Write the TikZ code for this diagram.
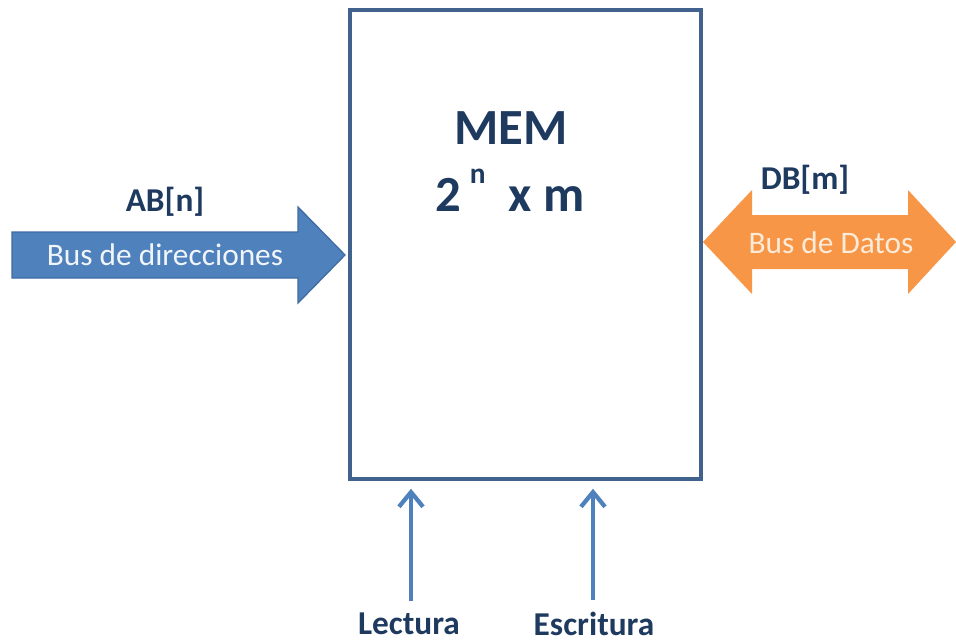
\documentclass[tikz,border=0pt]{standalone}
\usepackage{fontspec}
\setmainfont{Carlito}
\usetikzlibrary{arrows.meta}
\definecolor{busblue}{HTML}{4F81BD}
\definecolor{busblueline}{HTML}{3F6CA3}
\definecolor{busorange}{HTML}{F79646}
\definecolor{boxline}{HTML}{41628C}
\definecolor{labeltext}{HTML}{1F3A5F}
\definecolor{cream}{HTML}{FCEBD8}
\tikzset{
  memframe/.style={draw=boxline, line width=2.6pt, fill=white, inner sep=0pt},
  title/.style={text=labeltext, font=\bfseries\fontsize{38}{42}\selectfont, align=center},
  buslabel/.style={text=labeltext, font=\bfseries\fontsize{25}{28}\selectfont},
  businside/.style={font=\fontsize{23.5}{27}\selectfont},
  ctrl/.style={text=labeltext, font=\bfseries\fontsize{25}{28}\selectfont, inner sep=1pt},
  ctrlarrow/.style={draw=busblue, line width=3.2pt, -{Straight Barb[length=11pt, width=18pt, line width=3.2pt]}},
}
\begin{document}
\begin{tikzpicture}[x=0.75pt, y=-0.75pt]
  \useasboundingbox (0,0) rectangle (956,642);

  % memory block
  \node[memframe, minimum width=263.25pt, minimum height=351.75pt] (mem) at (525.5,244.5) {};
  \node[title] (memname) at (511,128) {MEM};
  \node[title] (memsize) at (510,190) {2\,\raisebox{0.55em}{\fontsize{22}{24}\selectfont n}\ \ x m};

  % address bus (into the block)
  \path[fill=busblue, draw=busblueline, line width=1pt]
    (12,232) -- (298,232) -- (298,207) -- (345,255) -- (298,303) -- (298,278) -- (12,278) -- cycle;
  \node[businside, text=white!92!busblue] (abtext) at (165,255) {Bus de direcciones};
  \node[buslabel] (ab) at (165,202) {AB[n]};

  % data bus (both ways)
  \path[fill=busorange]
    (703,242) -- (752,190) -- (752,215) -- (908,215) -- (908,190) -- (956,242)
    -- (908,294) -- (908,269) -- (752,269) -- (752,294) -- cycle;
  \node[businside, text=cream] (dbtext) at (831,243) {Bus de Datos};
  \node[buslabel] (db) at (805,180) {DB[m]};

  % control lines
  \node[ctrl] (lect) at (409,624) {Lectura};
  \node[ctrl] (escr) at (594,624) {Escritura};
  \draw[ctrlarrow] ([yshift=8pt]lect.north -| 411,0) -- ([yshift=-6pt]mem.south -| 411,0);
  \draw[ctrlarrow] ([yshift=8pt]escr.north -| 593,0) -- ([yshift=-6pt]mem.south -| 593,0);
\end{tikzpicture}
\end{document}
